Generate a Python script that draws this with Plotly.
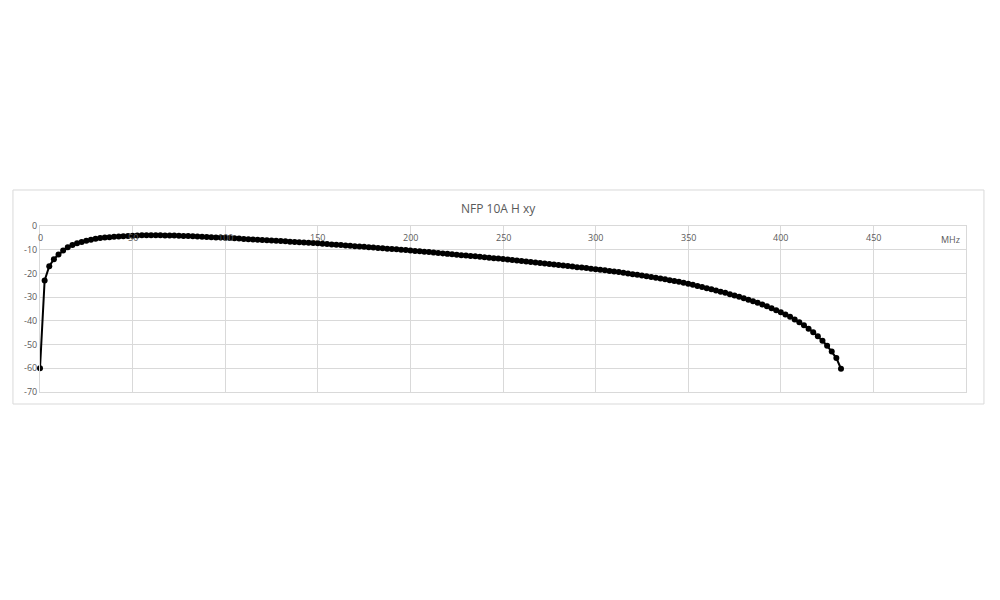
import plotly.graph_objects as go

# frequency (MHz) and level
freq = [
    0, 2.5, 5, 7.5, 10, 12.5, 15, 17.5, 20, 22.5, 25, 27.5, 30, 32.5, 35, 37.5, 40, 42.5, 45, 47.5,
    50, 52.5, 55, 57.5, 60, 62.5, 65, 67.5, 70, 72.5, 75, 77.5, 80, 82.5, 85, 87.5, 90, 92.5, 95, 97.5,
    100, 102.5, 105, 107.5, 110, 112.5, 115, 117.5, 120, 122.5, 125, 127.5, 130, 132.5, 135, 137.5, 140, 142.5, 145, 147.5,
    150, 152.5, 155, 157.5, 160, 162.5, 165, 167.5, 170, 172.5, 175, 177.5, 180, 182.5, 185, 187.5, 190, 192.5, 195, 197.5,
    200, 202.5, 205, 207.5, 210, 212.5, 215, 217.5, 220, 222.5, 225, 227.5, 230, 232.5, 235, 237.5, 240, 242.5, 245, 247.5,
    250, 252.5, 255, 257.5, 260, 262.5, 265, 267.5, 270, 272.5, 275, 277.5, 280, 282.5, 285, 287.5, 290, 292.5, 295, 297.5,
    300, 302.5, 305, 307.5, 310, 312.5, 315, 317.5, 320, 322.5, 325, 327.5, 330, 332.5, 335, 337.5, 340, 342.5, 345, 347.5,
    350, 352.5, 355, 357.5, 360, 362.5, 365, 367.5, 370, 372.5, 375, 377.5, 380, 382.5, 385, 387.5, 390, 392.5, 395, 397.5,
    400, 402.5, 405, 407.5, 410, 412.5, 415, 417.5, 420, 422.5, 425, 427.5, 430, 432.5,
]
level = [
    -60, -23, -17, -14, -12, -10.3, -9, -8, -7.3, -6.7, -6.2, -5.8, -5.4, -5.1, -4.9, -4.7, -4.5, -4.4, -4.3, -4.2,
    -4.1, -4.0, -3.95, -3.9, -3.9, -3.9, -3.95, -4.0, -4.0, -4.05, -4.1, -4.2, -4.25, -4.35, -4.45, -4.55, -4.6, -4.7, -4.8, -4.9,
    -5.0, -5.1, -5.2, -5.3, -5.45, -5.55, -5.65, -5.8, -5.9, -6.0, -6.1, -6.2, -6.35, -6.45, -6.6, -6.7, -6.8, -6.95, -7.05, -7.2,
    -7.3, -7.45, -7.6, -7.75, -7.9, -8.05, -8.2, -8.35, -8.5, -8.65, -8.8, -8.95, -9.1, -9.25, -9.4, -9.55, -9.7, -9.85, -10.0, -10.15,
    -10.3, -10.5, -10.65, -10.85, -11.0, -11.2, -11.4, -11.55, -11.75, -11.9, -12.1, -12.3, -12.45, -12.65, -12.8, -13.0, -13.2, -13.35, -13.55, -13.7,
    -13.9, -14.1, -14.3, -14.55, -14.75, -14.95, -15.2, -15.4, -15.6, -15.8, -16.05, -16.25, -16.45, -16.7, -16.9, -17.1, -17.35, -17.55, -17.75, -18.0,
    -18.2, -18.45, -18.7, -18.95, -19.2, -19.45, -19.75, -20.0, -20.3, -20.6, -20.9, -21.2, -21.5, -21.8, -22.15, -22.5, -22.85, -23.2, -23.55, -23.95,
    -24.35, -24.8, -25.25, -25.7, -26.2, -26.7, -27.2, -27.7, -28.2, -28.75, -29.3, -29.85, -30.45, -31.05, -31.7, -32.4, -33.1, -33.85, -34.65, -35.5,
    -36.4, -37.3, -38.3, -39.4, -40.6, -41.9, -43.3, -44.8, -46.5, -48.4, -50.5, -52.9, -55.7, -60.2,
]

x_ticks = [0, 50, 100, 150, 200, 250, 300, 350, 400, 450]
y_ticks = [0, -10, -20, -30, -40, -50, -60, -70]
y_labels = ["0", "-10", "-20", "-30", "-40", "-50", "-60", "-70"]

grey = "#595959"
grid = "#d9d9d9"

fig = go.Figure()
fig.add_trace(go.Scatter(x=freq, y=level, mode="lines+markers",
                         line=dict(color="black", width=2),
                         marker=dict(color="black", size=6),
                         cliponaxis=False, showlegend=False))

fig.update_layout(
    width=1000, height=600,
    paper_bgcolor="white", plot_bgcolor="white",
    margin=dict(l=32, r=42, t=218, b=216),
    font=dict(family="Open Sans, sans-serif", color=grey),
)
fig.update_xaxes(range=[0, 500], tickvals=x_ticks + [500], showticklabels=False,
                 showgrid=True, gridcolor=grid,
                 showline=True, linecolor=grid, mirror=True, zeroline=False, ticks="")
fig.update_yaxes(range=[-70, 0], tickvals=y_ticks, ticktext=y_labels,
                 tickfont=dict(size=9, color=grey), showgrid=True, gridcolor=grid,
                 showline=True, linecolor=grid, mirror=True, zeroline=False, ticks="")

# x labels sit just under the top edge (axis crosses at 0)
for v in x_ticks:
    fig.add_annotation(text=str(v), x=v, xref="x", y=0.928, yref="paper", yanchor="middle",
                       showarrow=False, font=dict(size=9, color=grey))

# chart frame
fig.add_shape(type="rect", xref="paper", yref="paper",
              x0=-0.0292, x1=1.0194, y0=-0.0723, y1=1.2169,
              line=dict(color=grid, width=1), layer="below")

fig.add_annotation(text="NFP 10A H xy", xref="paper", yref="paper", x=0.4955, y=1.107,
                   xanchor="center", yanchor="middle", showarrow=False,
                   font=dict(size=12, color=grey))
fig.add_annotation(text="MHz", xref="paper", yref="paper", x=0.983, y=0.916,
                   xanchor="center", yanchor="middle", showarrow=False,
                   font=dict(size=9, color=grey))

fig.write_html("out.html")
